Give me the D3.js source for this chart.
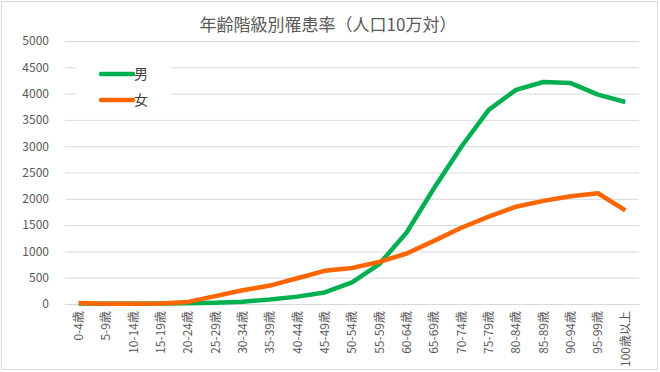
<!DOCTYPE html>
<html>
<head>
<meta charset="utf-8">
<script src="https://cdn.jsdelivr.net/npm/d3@7"></script>
<style>
  body { margin: 0; background: #fff; }
  text { font-family: "Noto Sans CJK JP", "Noto Sans", sans-serif; }
</style>
</head>
<body>
<div id="chart"></div>
<script>
// Age groups on the x axis
const ageGroups = ["0-4歳", "5-9歳", "10-14歳", "15-19歳", "20-24歳", "25-29歳", "30-34歳",
  "35-39歳", "40-44歳", "45-49歳", "50-54歳", "55-59歳", "60-64歳", "65-69歳", "70-74歳",
  "75-79歳", "80-84歳", "85-89歳", "90-94歳", "95-99歳", "100歳以上"];

// Rates per 100,000
const male = [10, 5, 5, 10, 15, 25, 45, 85, 140, 220, 410, 760, 1360, 2200, 2990,
  3690, 4070, 4220, 4200, 3980, 3840];
const female = [20, 5, 5, 10, 40, 150, 260, 350, 490, 630, 685, 800, 960, 1200, 1450,
  1660, 1850, 1960, 2050, 2105, 1780];

const yTicks = [0, 500, 1000, 1500, 2000, 2500, 3000, 3500, 4000, 4500, 5000];

const seriesNames = ["男", "女"];
const seriesColours = ["#00B050", "#FF6600"];

// Chart dimensions
const width = 660;
const height = 372;
const marginLeft = 65;
const marginRight = 21;
const marginTop = 41;
const plotBottom = 304;

const graph = d3.create("svg")
  .attr("width", width)
  .attr("height", height);

// outer frame
graph.append("rect")
  .attr("x", 1.5).attr("y", 1.5)
  .attr("width", width - 4).attr("height", height - 4)
  .attr("fill", "#fff")
  .attr("stroke", "#d9d9d9");

const xscale = d3.scaleBand()
  .domain(ageGroups)
  .range([marginLeft, width - marginRight]);

const yscale = d3.scaleLinear()
  .domain([0, 5000])
  .range([plotBottom, marginTop]);

// gridlines + y labels
const yAxis = graph.append("g")
  .attr("transform", `translate(${marginLeft},0)`)
  .call(d3.axisLeft(yscale).tickValues(yTicks)
    .tickSize(-(width - marginRight - marginLeft)).tickPadding(16).tickFormat(d3.format("d")));
yAxis.select(".domain").remove();
yAxis.selectAll("line").attr("stroke", "#d9d9d9");
yAxis.selectAll("text").attr("fill", "#595959").style("font-size", "12px");

// x axis
const xAxis = graph.append("g")
  .attr("transform", `translate(0,${plotBottom})`)
  .call(d3.axisBottom(xscale).tickSize(0));
xAxis.select(".domain").attr("stroke", "#d9d9d9");
xAxis.selectAll("text")
  .attr("fill", "#595959")
  .style("font-size", "12px")
  .attr("text-anchor", "end")
  .attr("dy", "0.35em")
  .attr("transform", "translate(0,7) rotate(-90)")
  .attr("x", 0).attr("y", 0);

// title
graph.append("text")
  .attr("x", 328).attr("y", 31)
  .attr("text-anchor", "middle")
  .attr("fill", "#595959")
  .style("font-size", "17px")
  .text("年齢階級別罹患率（人口10万対）");

// lines
const lineGenerator = d3.line()
  .x((d, i) => xscale(ageGroups[i]) + xscale.bandwidth() / 2)
  .y(d => yscale(d));

[male, female].forEach((values, k) => {
  graph.append("path")
    .attr("fill", "none")
    .attr("stroke", seriesColours[k])
    .attr("stroke-width", 4.5)
    .attr("stroke-linejoin", "round")
    .attr("d", lineGenerator(values));
});

// legend
const legend = graph.append("g");
legend.append("rect")
  .attr("x", 76).attr("y", 56).attr("width", 95).attr("height", 56)
  .attr("fill", "#fff");
seriesNames.forEach((name, k) => {
  const y = 74 + k * 26;
  legend.append("line")
    .attr("x1", 101).attr("x2", 133).attr("y1", y).attr("y2", y)
    .attr("stroke", seriesColours[k]).attr("stroke-width", 4.5)
    .attr("stroke-linecap", "round");
  legend.append("text")
    .attr("x", 134).attr("y", y + 5)
    .attr("fill", "#404040")
    .style("font-size", "14px")
    .text(name);
});

chart.append(graph.node());
</script>
</body>
</html>
